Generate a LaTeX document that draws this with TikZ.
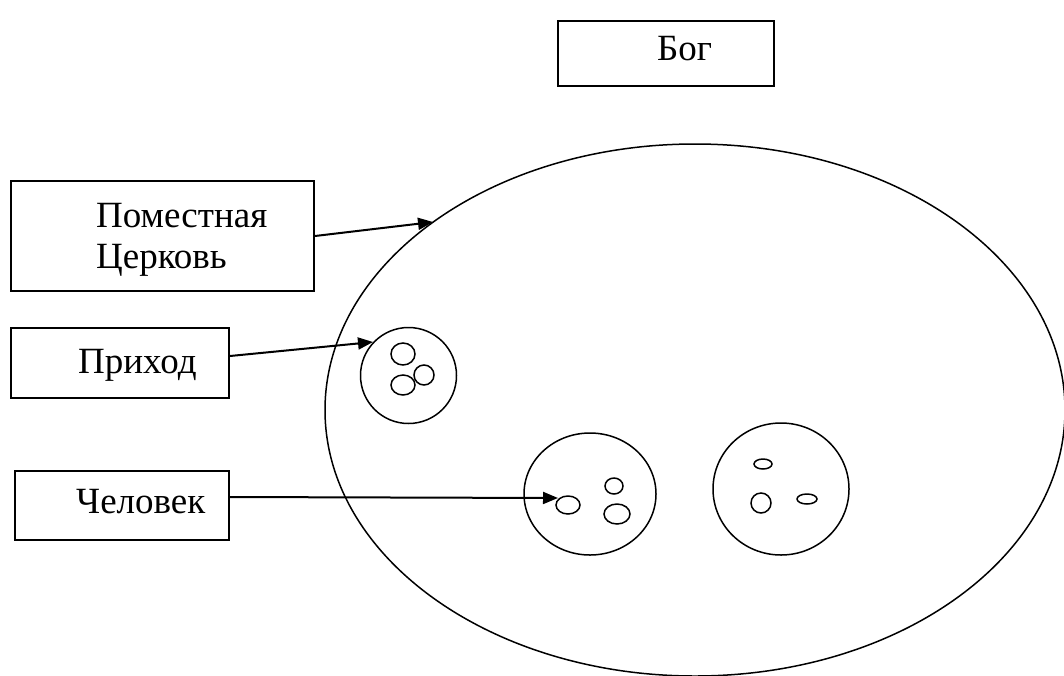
\documentclass[tikz,border=0pt]{standalone}
\usepackage{fontspec}
\setmainfont{Liberation Serif}
\usetikzlibrary{arrows.meta}
\begin{document}
\begin{tikzpicture}[x=1pt,y=-1pt,
  box/.style={draw, line width=2pt, inner sep=0pt, anchor=north west},
  lbl/.style={anchor=base west, inner sep=0pt, font=\fontsize{37}{41}\selectfont, align=left},
  ring/.style={line width=1.5pt},
  arr/.style={line width=2pt, -{Triangle[length=15pt,width=12pt]}}]
\useasboundingbox (0,0) rectangle (1064,675);
% big ellipse
\draw[ring] (695,410) ellipse [x radius=370, y radius=266];
% boxes
\node[box, minimum width=216pt, minimum height=65pt] (bog) at (557,20) {};
\node[lbl] (tbog) at (657,60) {Бог};
\node[box, minimum width=303pt, minimum height=110pt] (pc) at (10,180) {};
\node[lbl] (tpc) at (96,268) {Поместная\\Церковь};
\node[box, minimum width=218pt, minimum height=70pt] (pr) at (10,327) {};
\node[lbl] (tpr) at (78,373) {Приход};
\node[box, minimum width=214pt, minimum height=69pt] (ch) at (14,470) {};
\node[lbl] (tch) at (76,513) {Человек};
% parish circles
\draw[ring] (408.5,375.5) circle [radius=48];
\draw[ring] (403,354) ellipse [x radius=12, y radius=11];
\draw[ring] (403,385) ellipse [x radius=12, y radius=10];
\draw[ring] (424,375) ellipse [x radius=10, y radius=10];
\draw[ring] (590,494) ellipse [x radius=66, y radius=61];
\draw[ring] (568,505) ellipse [x radius=12, y radius=9];
\draw[ring] (614,486) ellipse [x radius=9, y radius=8];
\draw[ring] (617,514) ellipse [x radius=13, y radius=10];
\draw[ring] (781,489) ellipse [x radius=68, y radius=66];
\draw[ring] (763,464) ellipse [x radius=9, y radius=5];
\draw[ring] (761,503) ellipse [x radius=10, y radius=10];
\draw[ring] (807,499) ellipse [x radius=10, y radius=5];
% arrows
\coordinate (t1) at (433,222);
\coordinate (t2) at (373,342);
\coordinate (t3) at (558,498);
\draw[arr] (pc.east) -- (t1);
\draw[arr] ([yshift=7pt]pr.east) -- (t2);
\draw[arr] ([yshift=8.5pt]ch.east) -- (t3);
\end{tikzpicture}
\end{document}
